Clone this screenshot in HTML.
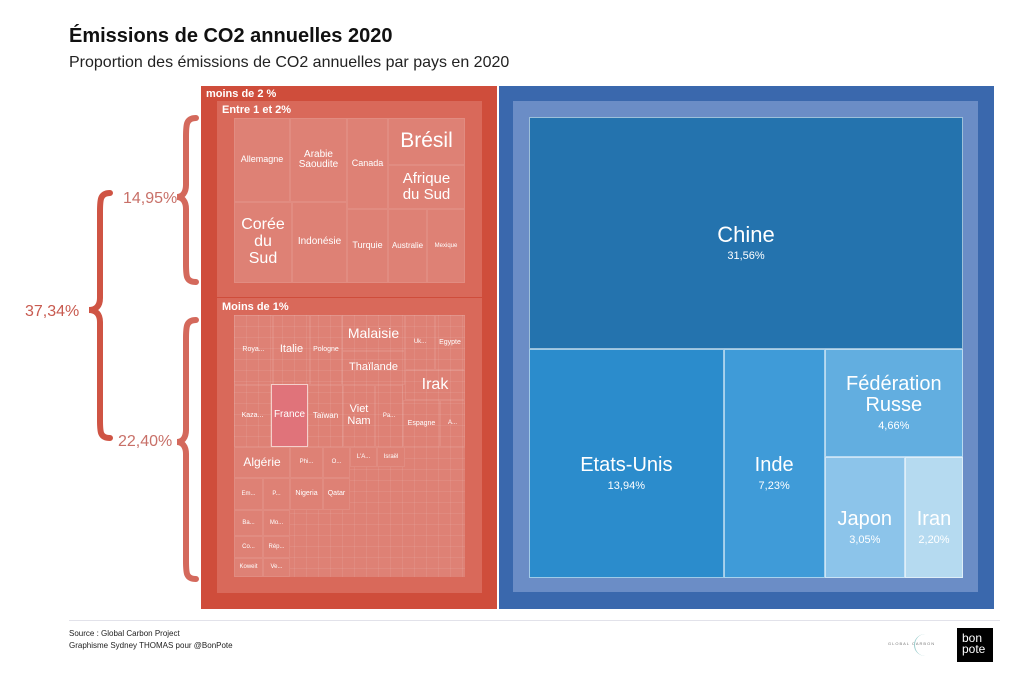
<!DOCTYPE html>
<html><head><meta charset="utf-8">
<style>
body{margin:0;width:1024px;height:681px;background:#fff;font-family:"Liberation Sans",sans-serif;position:relative;overflow:hidden}
.a{position:absolute;box-sizing:border-box}
.c{position:absolute;box-sizing:border-box;border:1px solid rgba(255,255,255,0.09);color:#fff;display:flex;flex-direction:column;align-items:center;justify-content:center;text-align:center;line-height:1.05;overflow:hidden;white-space:nowrap}
.b{position:absolute;box-sizing:border-box;border:1px solid rgba(255,255,255,0.55);color:#fff;display:flex;flex-direction:column;align-items:center;justify-content:center;text-align:center;line-height:1.05}
</style></head><body>
<div class="a" style="left:69px;top:25px;font-size:20px;font-weight:bold;color:#111">Émissions de CO2 annuelles 2020</div>
<div class="a" style="left:69px;top:54px;font-size:16px;color:#222">Proportion des émissions de CO2 annuelles par pays en 2020</div>

<svg class="a" style="left:0;top:0" width="200" height="681">
<g fill="none" stroke-width="6" stroke-linecap="round">
<path stroke="#cf5444" d="M110,193 C100,193 100,200 100,212 L100,298 C100,306 96,310 89,310 C96,310 100,314 100,322 L100,420 C100,432 100,438 110,438"/>
<path stroke="#d4695c" d="M196,118 C186,118 186,125 186,137 L186,185 C186,193 182,197 177,197 C182,197 186,201 186,209 L186,264 C186,276 186,282 196,282"/>
<path stroke="#d4695c" d="M196,320 C186,320 186,327 186,339 L186,430 C186,438 182,442 177,442 C182,442 186,446 186,454 L186,561 C186,573 186,579 196,579"/>
</g>
<text x="25" y="316" font-size="16" fill="#c85a4f" font-family="Liberation Sans">37,34%</text>
<text x="123" y="203" font-size="16" fill="#c87068" font-family="Liberation Sans">14,95%</text>
<text x="118" y="446" font-size="16" fill="#c87068" font-family="Liberation Sans">22,40%</text>
</svg>

<div class="a" style="left:201px;top:86px;width:296px;height:523px;background:#cf4d3b">
<div class="a" style="left:5px;top:2px;font-size:11px;font-weight:bold;color:#fff">moins de 2 %</div>
</div>
<div class="a" style="left:217px;top:101px;width:265px;height:196px;background:#d9695a">
<div class="a" style="left:5px;top:3px;font-size:11px;font-weight:bold;color:#fff">Entre 1 et 2%</div>
</div>
<div class="a" style="left:217px;top:298px;width:265px;height:295px;background:#d9695a">
<div class="a" style="left:5px;top:3px;font-size:11px;font-weight:bold;color:#fff">Moins de 1%</div>
</div>
<div class="a" style="left:234px;top:118px;width:231px;height:165px;background:#de8175"></div>
<div class="a" style="left:234px;top:315px;width:231px;height:262px;background:#de8175;
background-image:linear-gradient(rgba(255,255,255,0.07) 1px,transparent 1px),linear-gradient(90deg,rgba(255,255,255,0.07) 1px,transparent 1px);background-size:12px 11px"></div>

<div class="c" style="left:234px;top:118px;width:56px;height:84px;font-size:9px">Allemagne</div>
<div class="c" style="left:290px;top:118px;width:57px;height:84px;font-size:10px">Arabie<br>Saoudite</div>
<div class="c" style="left:347px;top:118px;width:41px;height:91px;font-size:9px">Canada</div>
<div class="c" style="left:388px;top:118px;width:77px;height:47px;font-size:21px">Brésil</div>
<div class="c" style="left:388px;top:165px;width:77px;height:44px;font-size:15px">Afrique<br>du Sud</div>
<div class="c" style="left:234px;top:202px;width:58px;height:81px;font-size:16px">Corée<br>du<br>Sud</div>
<div class="c" style="left:292px;top:202px;width:55px;height:81px;font-size:10px">Indonésie</div>
<div class="c" style="left:347px;top:209px;width:41px;height:74px;font-size:9px">Turquie</div>
<div class="c" style="left:388px;top:209px;width:39px;height:74px;font-size:8px">Australie</div>
<div class="c" style="left:427px;top:209px;width:38px;height:74px;font-size:6px">Mexique</div>

<div class="c" style="left:234px;top:315px;width:39px;height:70px;font-size:7px">Roya...</div>
<div class="c" style="left:273px;top:315px;width:37px;height:70px;font-size:11px">Italie</div>
<div class="c" style="left:310px;top:315px;width:32px;height:70px;font-size:7px">Pologne</div>
<div class="c" style="left:342px;top:315px;width:63px;height:36px;font-size:14px">Malaisie</div>
<div class="c" style="left:342px;top:351px;width:63px;height:34px;font-size:11px">Thaïlande</div>
<div class="c" style="left:405px;top:315px;width:30px;height:55px;font-size:6px">Uk...</div>
<div class="c" style="left:435px;top:315px;width:30px;height:55px;font-size:7px">Egypte</div>
<div class="c" style="left:405px;top:370px;width:60px;height:30px;font-size:16px">Irak</div>
<div class="c" style="left:234px;top:385px;width:37px;height:62px;font-size:7px">Kaza...</div>
<div class="c" style="left:271px;top:384px;width:37px;height:63px;font-size:10px;background:#e0737a;border:1px solid #f5d0cc">France</div>
<div class="c" style="left:308px;top:385px;width:35px;height:62px;font-size:8px">Taïwan</div>
<div class="c" style="left:343px;top:385px;width:32px;height:62px;font-size:11px">Viet<br>Nam</div>
<div class="c" style="left:375px;top:385px;width:28px;height:62px;font-size:6px">Pa...</div>
<div class="c" style="left:403px;top:400px;width:37px;height:47px;font-size:7px">Espagne</div>
<div class="c" style="left:440px;top:400px;width:25px;height:47px;font-size:6px">A...</div>
<div class="c" style="left:234px;top:447px;width:56px;height:31px;font-size:12px;background:#de8175">Algérie</div>
<div class="c" style="left:290px;top:447px;width:33px;height:31px;font-size:6px;background:#de8175">Phi...</div>
<div class="c" style="left:323px;top:447px;width:27px;height:31px;font-size:6px;background:#de8175">O...</div>
<div class="c" style="left:350px;top:447px;width:27px;height:20px;font-size:6px;background:#de8175">L'A...</div>
<div class="c" style="left:377px;top:447px;width:28px;height:20px;font-size:6px;background:#de8175">Israël</div>
<div class="c" style="left:234px;top:478px;width:29px;height:32px;font-size:6px;background:#de8175">Em...</div>
<div class="c" style="left:263px;top:478px;width:27px;height:32px;font-size:6px;background:#de8175">P...</div>
<div class="c" style="left:290px;top:478px;width:33px;height:32px;font-size:7px;background:#de8175">Nigeria</div>
<div class="c" style="left:323px;top:478px;width:27px;height:32px;font-size:7px;background:#de8175">Qatar</div>
<div class="c" style="left:234px;top:510px;width:29px;height:26px;font-size:6px;background:#de8175">Ba...</div>
<div class="c" style="left:263px;top:510px;width:27px;height:26px;font-size:6px;background:#de8175">Mo...</div>
<div class="c" style="left:234px;top:536px;width:29px;height:22px;font-size:6px;background:#de8175">Co...</div>
<div class="c" style="left:263px;top:536px;width:27px;height:22px;font-size:6px;background:#de8175">Rép...</div>
<div class="c" style="left:234px;top:558px;width:29px;height:19px;font-size:6px;background:#de8175">Koweit</div>
<div class="c" style="left:263px;top:558px;width:27px;height:19px;font-size:6px;background:#de8175">Ve...</div>

<div class="a" style="left:499px;top:86px;width:495px;height:523px;background:#3a68ad"></div>
<div class="a" style="left:513px;top:101px;width:465px;height:491px;background:#6b8dc6"></div>
<div id="blue" class="a" style="left:529px;top:117px;width:434px;height:461px"></div>

<div class="a" style="left:69px;top:620px;width:931px;height:1px;background:#e2e2ea"></div>
<div class="a" style="left:69px;top:628px;font-size:8px;color:#222;line-height:12px">Source : Global Carbon Project<br>Graphisme Sydney THOMAS pour @BonPote</div>
<div class="a" style="left:888px;top:641px;font-size:4px;letter-spacing:1px;color:#777">GLOBAL CARBON</div>
<div class="a" style="left:914px;top:634px;width:22px;height:22px;border-radius:50%;border-left:1px solid #9cc;"></div>
<div class="a" style="left:957px;top:628px;width:36px;height:34px;background:#000;color:#fff;font-size:12px;line-height:11px;padding:5px 0 0 5px">bon<br>pote</div>

<script>
const countries=["Chine","Etats-Unis","Inde","Fédération Russe","Japon","Iran"];
const shares=[31.56,13.94,7.23,4.66,3.05,2.20];
const labels=["31,56%","13,94%","7,23%","4,66%","3,05%","2,20%"];
const colors=["#2473ae","#2b8ccc","#3f9bd8","#62aee0","#8cc4ea","#b5daf0"];
const fonts=[22,20,20,20,20,20];
const W=434,H=461;
const host=document.getElementById('blue');
function box(i,x,y,w,h){
  const d=document.createElement('div');
  d.className='b';
  
  
  const multi=countries[i].indexOf(' ')>=0;
  d.style.cssText=`left:${x}px;top:${y}px;width:${w}px;height:${h}px;background:${colors[i]};padding-top:${multi?0:20}px`;
  const n=document.createElement('div');n.style.fontSize=fonts[i]+'px';
  n.innerHTML=countries[i].replace(' ','<br>');
  const p=document.createElement('div');p.style.fontSize='11px';p.style.marginTop='5px';p.textContent=labels[i];
  d.appendChild(n);d.appendChild(p);host.appendChild(d);
}
const total=shares.reduce((a,b)=>a+b,0);
const h0=H*shares[0]/total; box(0,0,0,W,h0);
const rest=total-shares[0]; const hr=H-h0;
let x=0;
const w1=W*shares[1]/rest; box(1,x,h0,w1,hr); x+=w1;
const w2=W*shares[2]/rest; box(2,x,h0,w2,hr); x+=w2;
const r3=shares[3]+shares[4]+shares[5]; const w3=W-x;
const h3=hr*shares[3]/r3; box(3,x,h0,w3,h3);
const r4=shares[4]+shares[5]; const w4=w3*shares[4]/r4;
box(4,x,h0+h3,w4,hr-h3); box(5,x+w4,h0+h3,w3-w4,hr-h3);
</script>
</body></html>
